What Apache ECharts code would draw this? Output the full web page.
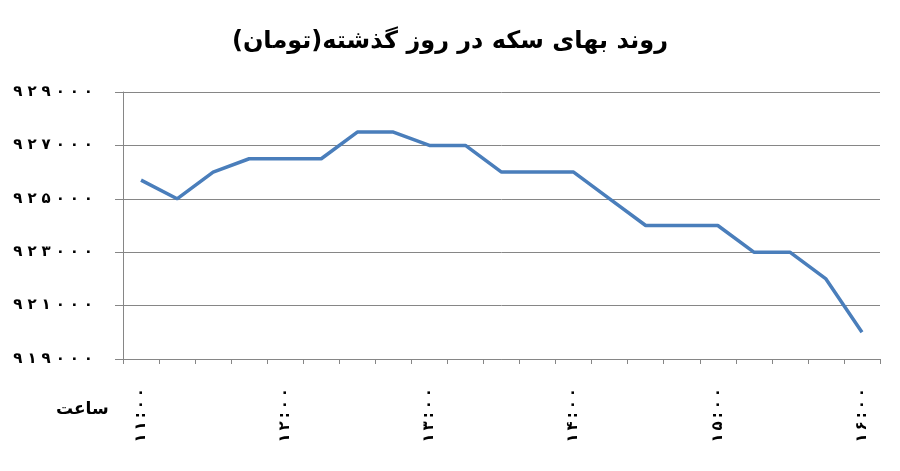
<!DOCTYPE html>
<html>
<head>
<meta charset="utf-8">
<script src="https://cdn.jsdelivr.net/npm/echarts@6/dist/echarts.min.js"></script>
<style>
  html, body { margin: 0; padding: 0; background: #fff; }
  #chart { width: 900px; height: 471px; }
</style>
</head>
<body>
<div id="chart"></div>
<script>
// ساعت - every 15 minutes, 11:00 to 16:00
var hours = ['۱۱:۰۰', '۱۱:۱۵', '۱۱:۳۰', '۱۱:۴۵',
             '۱۲:۰۰', '۱۲:۱۵', '۱۲:۳۰', '۱۲:۴۵',
             '۱۳:۰۰', '۱۳:۱۵', '۱۳:۳۰', '۱۳:۴۵',
             '۱۴:۰۰', '۱۴:۱۵', '۱۴:۳۰', '۱۴:۴۵',
             '۱۵:۰۰', '۱۵:۱۵', '۱۵:۳۰', '۱۵:۴۵',
             '۱۶:۰۰'];
// قیمت سکه (تومان)
var prices = [925700, 925000, 926000, 926500, 926500, 926500, 927500, 927500,
              927000, 927000, 926000, 926000, 926000, 925000, 924000, 924000,
              924000, 923000, 923000, 922000, 920000];
var yMin = 919000, yMax = 929000, yStep = 2000;

var titleText = 'روند بهای سکه در روز گذشته(تومان)';
var xName = 'ساعت';

var faDigits = '۰۱۲۳۴۵۶۷۸۹';
function toFa(n) {
    return String(n).replace(/[0-9]/g, function (d) { return faDigits[+d]; });
}

var chart = echarts.init(document.getElementById('chart'));
chart.setOption({
    animation: false,
    title: {
        text: titleText,
        left: 'center',
        top: 25,
        textStyle: {
            fontFamily: 'DejaVu Sans',
            fontSize: 24,
            fontWeight: 'bold',
            color: '#000'
        }
    },
    grid: { left: 123, right: 20, top: 92, bottom: 112, containLabel: false },
    graphic: [{
        type: 'text',
        left: 56,
        top: 401,
        style: {
            text: xName,
            font: 'bold 17px "DejaVu Sans"',
            fill: '#000'
        }
    }],
    xAxis: {
        type: 'category',
        data: hours,
        boundaryGap: true,
        axisLine: { lineStyle: { color: '#868686', width: 1 } },
        axisTick: { show: true, interval: 0, length: 5, lineStyle: { color: '#868686' } },
        axisLabel: {
            interval: 3,
            rotate: 90,
            margin: 29,
            fontFamily: 'DejaVu Sans',
            fontSize: 15,
            fontWeight: 'bold',
            color: '#000',
            formatter: function (v) {
                return v.split('').join('\u2009');
            }
        },
        splitLine: { show: false }
    },
    yAxis: {
        type: 'value',
        min: yMin,
        max: yMax,
        interval: yStep,
        axisLine: { show: true, lineStyle: { color: '#868686', width: 1 } },
        axisTick: { show: true, length: 8, lineStyle: { color: '#868686' } },
        axisLabel: {
            margin: 30,
            align: 'right',
            fontFamily: 'DejaVu Sans',
            fontSize: 15,
            fontWeight: 'bold',
            color: '#000',
            formatter: function (v) {
                return toFa(v).split('').join('\u2004');
            }
        },
        splitLine: { show: true, lineStyle: { color: '#868686', width: 1 } }
    },
    series: [{
        type: 'line',
        data: prices,
        showSymbol: false,
        symbol: 'none',
        lineStyle: { color: '#4a7ebb', width: 3.5 }
    }]
});
</script>
</body>
</html>
